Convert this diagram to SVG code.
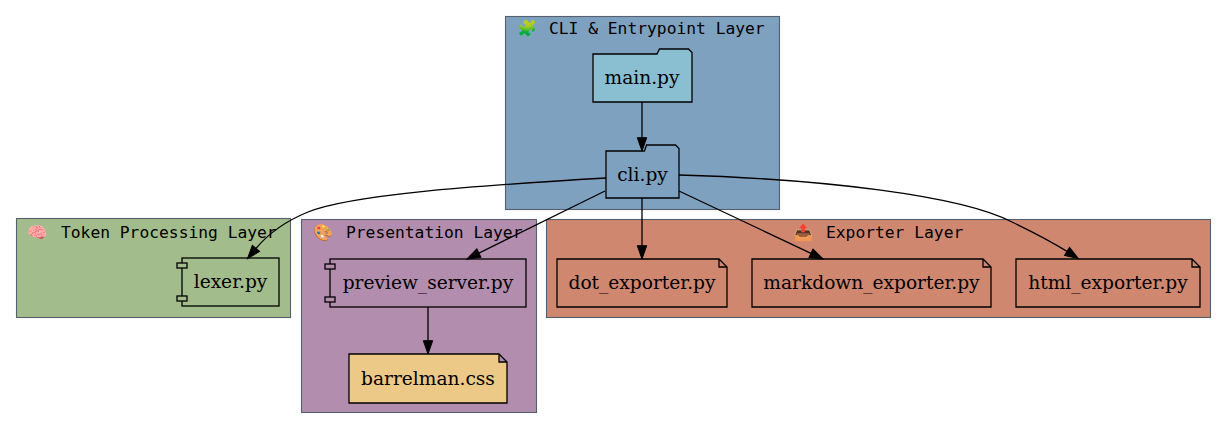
<svg xmlns="http://www.w3.org/2000/svg" width="1227" height="429" viewBox="0 0 1227 429">
<style>
.cl{stroke:#56606e;stroke-width:1.1}
.nd{stroke:#000;stroke-width:1.3}
.ct{font-family:"DejaVu Sans Mono","Liberation Mono",monospace;font-size:16.3px;fill:#000}
.nt{font-family:"DejaVu Serif","Liberation Serif",serif;font-size:18.6px;fill:#000;text-anchor:middle}
.ed{fill:none;stroke:#000;stroke-width:1.3}
</style>
<defs>
<marker id="ah" markerUnits="userSpaceOnUse" markerWidth="15" markerHeight="11" refX="0" refY="4.7" orient="auto" overflow="visible">
<path d="M0,0 L13.3,4.7 L0,9.4 Z" fill="#000" stroke="#000" stroke-width="1"/>
</marker>
</defs>
<rect width="1227" height="429" fill="#fff"/>
<g id="cluster_cli">
<rect class="cl" x="505.5" y="16.5" width="274" height="193" fill="#7fa1c0"/>
<text class="ct"><tspan x="517" y="34">🧩</tspan><tspan x="549" y="34">CLI &amp; Entrypoint Layer</tspan></text>
</g>
<g id="cluster_token">
<rect class="cl" x="16.5" y="218.5" width="274" height="99" fill="#a3bc8b"/>
<text class="ct"><tspan x="27" y="238">🧠</tspan><tspan x="61" y="238">Token Processing Layer</tspan></text>
</g>
<g id="cluster_presentation">
<rect class="cl" x="301.5" y="219.5" width="235" height="193" fill="#b38dad"/>
<text class="ct"><tspan x="313" y="238">🎨</tspan><tspan x="346" y="238">Presentation Layer</tspan></text>
</g>
<g id="cluster_exporter">
<rect class="cl" x="546.5" y="219.5" width="664" height="98" fill="#cf8770"/>
<text class="ct"><tspan x="793" y="238">📤</tspan><tspan x="826" y="238">Exporter Layer</tspan></text>
</g>
<g id="node_main">
<path class="nd" d="M593,54 L657,54 L659.5,49 L688.5,49 L692,52.5 L692,102 L593,102 Z" fill="#89bfd0"/>
<text class="nt" x="642" y="84">main.py</text>
</g>
<g id="node_cli">
<path class="nd" d="M606,151 L644.5,151 L646.5,145 L675.5,145 L679,148.5 L679,198 L606,198 Z" fill="#7fa1c0"/>
<text class="nt" x="642.5" y="181">cli.py</text>
</g>
<g id="node_lexer">
<rect class="nd" x="182" y="258" width="97" height="48" fill="#a3bc8b"/>
<rect class="nd" x="177" y="263" width="10" height="5" fill="#a3bc8b"/>
<rect class="nd" x="177" y="296" width="10" height="5" fill="#a3bc8b"/>
<text class="nt" x="230.5" y="288">lexer.py</text>
</g>
<g id="node_preview">
<rect class="nd" x="330" y="259" width="196" height="48" fill="#b38dad"/>
<rect class="nd" x="325" y="264" width="10" height="5" fill="#b38dad"/>
<rect class="nd" x="325" y="297" width="10" height="5" fill="#b38dad"/>
<text class="nt" x="428" y="289">preview_server.py</text>
</g>
<g id="node_barrelman">
<path class="nd" d="M349,354 L499,354 L507,362 L507,403 L349,403 Z M499,354 L499,362 L507,362" fill="#ecc987"/>
<text class="nt" x="428" y="385">barrelman.css</text>
</g>
<g id="node_dot">
<path class="nd" d="M557,259 L719,259 L727,267 L727,307 L557,307 Z M719,259 L719,267 L727,267" fill="#cf8770"/>
<text class="nt" x="642" y="289">dot_exporter.py</text>
</g>
<g id="node_markdown">
<path class="nd" d="M752,259 L983,259 L991,267 L991,307 L752,307 Z M983,259 L983,267 L991,267" fill="#cf8770"/>
<text class="nt" x="871.5" y="289">markdown_exporter.py</text>
</g>
<g id="node_html">
<path class="nd" d="M1016,259 L1192,259 L1200,267 L1200,307 L1016,307 Z M1192,259 L1192,267 L1200,267" fill="#cf8770"/>
<text class="nt" x="1108" y="289">html_exporter.py</text>
</g>
<g id="edges">
<path class="ed" marker-end="url(#ah)" d="M642,102 L642,137.7"/>
<path class="ed" marker-end="url(#ah)" d="M642,198 L642,245.7"/>
<path class="ed" marker-end="url(#ah)" d="M428,307 L428,340.7"/>
<path class="ed" marker-end="url(#ah)" d="M605,191 L478.9,253.1"/>
<path class="ed" marker-end="url(#ah)" d="M679,191 L811,253.3"/>
<path class="ed" marker-end="url(#ah)" d="M606,178 C470,186 350,195 308,212 C286,221 268,234 256,248.4"/>
<path class="ed" marker-end="url(#ah)" d="M679,175 C820,179 960,195 1012,222 C1035,233 1052,242 1067,251.4"/>
</g>
</svg>
